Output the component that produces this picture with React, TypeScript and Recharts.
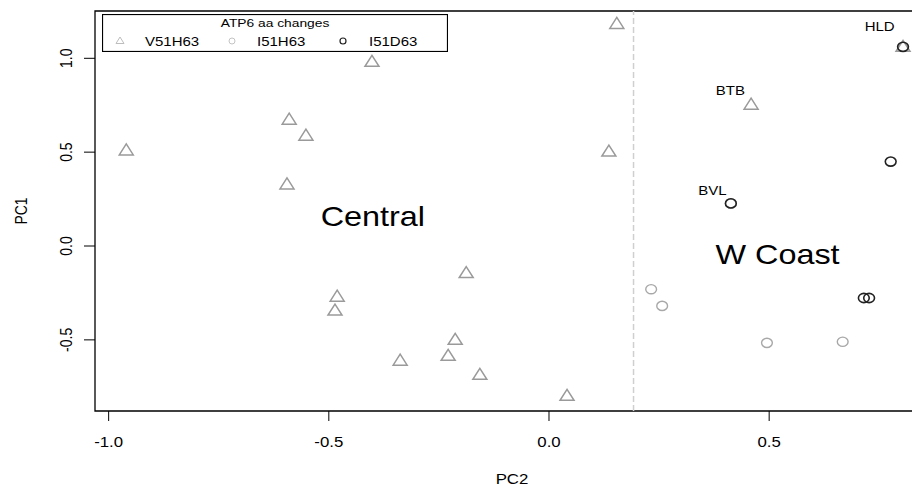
import React from "react"
import {
  ScatterChart,
  Scatter,
  XAxis,
  YAxis,
  ReferenceLine,
  ReferenceArea,
  Legend,
} from "recharts"

// PCA scores (x = PC2, y = PC1)
const v51h63X = [-0.96, -0.402, -0.59, -0.552, -0.595, 0.154, 0.136, -0.481, -0.486, -0.188, -0.338, -0.213, -0.229, -0.157, 0.041, 0.459, 0.804]
const v51h63Y = [0.509, 0.981, 0.673, 0.588, 0.328, 1.183, 0.503, -0.27, -0.344, -0.144, -0.611, -0.5, -0.585, -0.686, -0.798, 0.753, 1.061]

const i51h63X = [0.232, 0.257, 0.495, 0.667, 0.413]
const i51h63Y = [-0.23, -0.319, -0.516, -0.51, 0.227]

const i51d63X = [0.776, 0.715, 0.727, 0.413, 0.804]
const i51d63Y = [0.45, -0.277, -0.277, 0.227, 1.061]

const stationNames = ["HLD", "BTB", "BVL"]
const stationX = [0.751, 0.412, 0.371]
const stationY = [1.167, 0.825, 0.291]

const regionNames = ["Central", "W Coast"]
const regionX = [-0.4, 0.519]
const regionY = [0.105, -0.097]

const xTicks = [-1.0, -0.5, 0.0, 0.5]
const yTicks = [-0.5, 0.0, 0.5, 1.0]
const xDomain: [number, number] = [-1.031, 0.863]
const yDomain: [number, number] = [-0.879, 1.252]
const divider = 0.192

const legendTitle = "ATP6 aa changes"
const seriesNames = ["V51H63", "I51H63", "I51D63"]

const FONT = "'Liberation Sans', Arial, Helvetica, sans-serif"
const SX = 1.2 // the source image is stretched horizontally

const zip = (xs: number[], ys: number[]) => xs.map((x, i) => ({ x, y: ys[i] }))

const triangle = (props: any) => {
  const { cx, cy } = props
  return (
    <polygon
      points={`${cx - 7},${cy + 4.5} ${cx + 7},${cy + 4.5} ${cx},${cy - 6.5}`}
      fill="none"
      stroke="#9a9a9a"
      strokeWidth={1.5}
    />
  )
}

const ring = (color: string, w: number) => (props: any) => {
  const { cx, cy } = props
  return <ellipse cx={cx} cy={cy} rx={5.4} ry={4.6} fill="none" stroke={color} strokeWidth={w} />
}

const stationText = (props: any) => {
  const { cx, cy, payload } = props
  return (
    <text
      transform={`translate(${cx},${cy}) scale(${SX},1)`}
      textAnchor="middle"
      dominantBaseline="central"
      fontFamily={FONT}
      fontSize={12.5}
      fill="#000"
    >
      {payload.name}
    </text>
  )
}

const regionText = (props: any) => {
  const { cx, cy, payload } = props
  return (
    <text
      transform={`translate(${cx},${cy}) scale(${SX},1)`}
      textAnchor="middle"
      fontFamily={FONT}
      fontSize={27}
      fill="#000"
    >
      {payload.name}
    </text>
  )
}

const XTick = (props: any) => {
  const { x, y, payload } = props
  return (
    <text
      transform={`translate(${x},${y}) scale(${SX},1)`}
      textAnchor="middle"
      fontFamily={FONT}
      fontSize={14}
      fill="#000"
    >
      {payload.value.toFixed(1)}
    </text>
  )
}

const YTick = (props: any) => {
  const { x, y, payload } = props
  return (
    <text
      transform={`translate(${x},${y}) scale(${SX},1) rotate(-90)`}
      textAnchor="middle"
      fontFamily={FONT}
      fontSize={14}
      fill="#000"
    >
      {payload.value.toFixed(1)}
    </text>
  )
}

const LegendBox = () => {
  const symX = [18, 130, 241]
  const textX = [43, 155, 267]
  return (
    <svg width={346} height={38} style={{ display: "block" }}>
      <rect x={0.5} y={0.5} width={345} height={37} fill="#fff" stroke="#000" strokeWidth={1.2} />
      <text
        transform={`translate(173,13) scale(${SX},1)`}
        textAnchor="middle"
        fontFamily={FONT}
        fontSize={11.5}
        fill="#000"
      >
        {legendTitle}
      </text>
      <polygon points={`${symX[0] - 4},${29.5} ${symX[0] + 4},${29.5} ${symX[0]},${23}`} fill="none" stroke="#bdbdbd" strokeWidth={1} />
      <circle cx={symX[1]} cy={27} r={3} fill="none" stroke="#c4c4c4" strokeWidth={1} />
      <circle cx={symX[2]} cy={27} r={3} fill="none" stroke="#222" strokeWidth={1.2} />
      {seriesNames.map((s, i) => (
        <text
          key={s}
          transform={`translate(${textX[i]},31.5) scale(${SX},1)`}
          fontFamily={FONT}
          fontSize={12.5}
          fill="#000"
        >
          {s}
        </text>
      ))}
    </svg>
  )
}

export default function App() {
  const triData = zip(v51h63X, v51h63Y)
  const lightData = zip(i51h63X, i51h63Y)
  const darkData = zip(i51d63X, i51d63Y)
  const stations = stationNames.map((name, i) => ({ name, x: stationX[i], y: stationY[i] }))
  const regions = regionNames.map((name, i) => ({ name, x: regionX[i], y: regionY[i] }))

  return (
    <div
      style={{
        position: "absolute",
        left: 0,
        top: 0,
        width: 912,
        height: 489,
        overflow: "hidden",
        background: "#fff",
      }}
    >
      <ScatterChart width={929} height={489} margin={{ top: 11, right: 0, bottom: 0, left: 0 }}>
        <XAxis
          type="number"
          dataKey="x"
          domain={xDomain}
          allowDataOverflow
          ticks={xTicks}
          axisLine={false}
          tickLine={{ stroke: "#000" }}
          tickSize={10}
          tickMargin={26}
          tick={<XTick />}
          height={78}
          label={{
            content: (p: any) => {
              const vb = p.viewBox
              return (
                <text
                  transform={`translate(${vb.x + vb.width / 2},${vb.y + 73}) scale(${SX},1)`}
                  textAnchor="middle"
                  fontFamily={FONT}
                  fontSize={14}
                  fill="#000"
                >
                  PC2
                </text>
              )
            },
          }}
        />
        <YAxis
          type="number"
          dataKey="y"
          domain={yDomain}
          allowDataOverflow
          ticks={yTicks}
          axisLine={false}
          tickLine={{ stroke: "#000" }}
          tickSize={11}
          tickMargin={12}
          tick={<YTick />}
          width={95}
          label={{
            content: (p: any) => {
              const vb = p.viewBox
              return (
                <text
                  transform={`translate(27,${vb.y + vb.height / 2}) scale(${SX},1) rotate(-90)`}
                  textAnchor="middle"
                  fontFamily={FONT}
                  fontSize={14}
                  fill="#000"
                >
                  PC1
                </text>
              )
            },
          }}
        />
        <ReferenceLine x={divider} stroke="#cfcfcf" strokeWidth={1.5} strokeDasharray="6 3" />
        <ReferenceArea
          x1={xDomain[0]}
          x2={xDomain[1]}
          y1={yDomain[0]}
          y2={yDomain[1]}
          fill="none"
          fillOpacity={0}
          stroke="#000"
          strokeWidth={1.3}
        />
        <Scatter name={seriesNames[0]} data={triData} shape={triangle} isAnimationActive={false} />
        <Scatter name={seriesNames[1]} data={lightData} shape={ring("#a8a8a8", 1.4)} isAnimationActive={false} />
        <Scatter name={seriesNames[2]} data={darkData} shape={ring("#222", 1.6)} isAnimationActive={false} />
        <Scatter data={stations} shape={stationText} legendType="none" isAnimationActive={false} />
        <Scatter data={regions} shape={regionText} legendType="none" isAnimationActive={false} />
        <Legend
          layout="vertical"
          align="center"
          verticalAlign="middle"
          content={() => <LegendBox />}
          wrapperStyle={{ left: 102, top: 14, width: 346, height: 38 }}
        />
      </ScatterChart>
    </div>
  )
}
